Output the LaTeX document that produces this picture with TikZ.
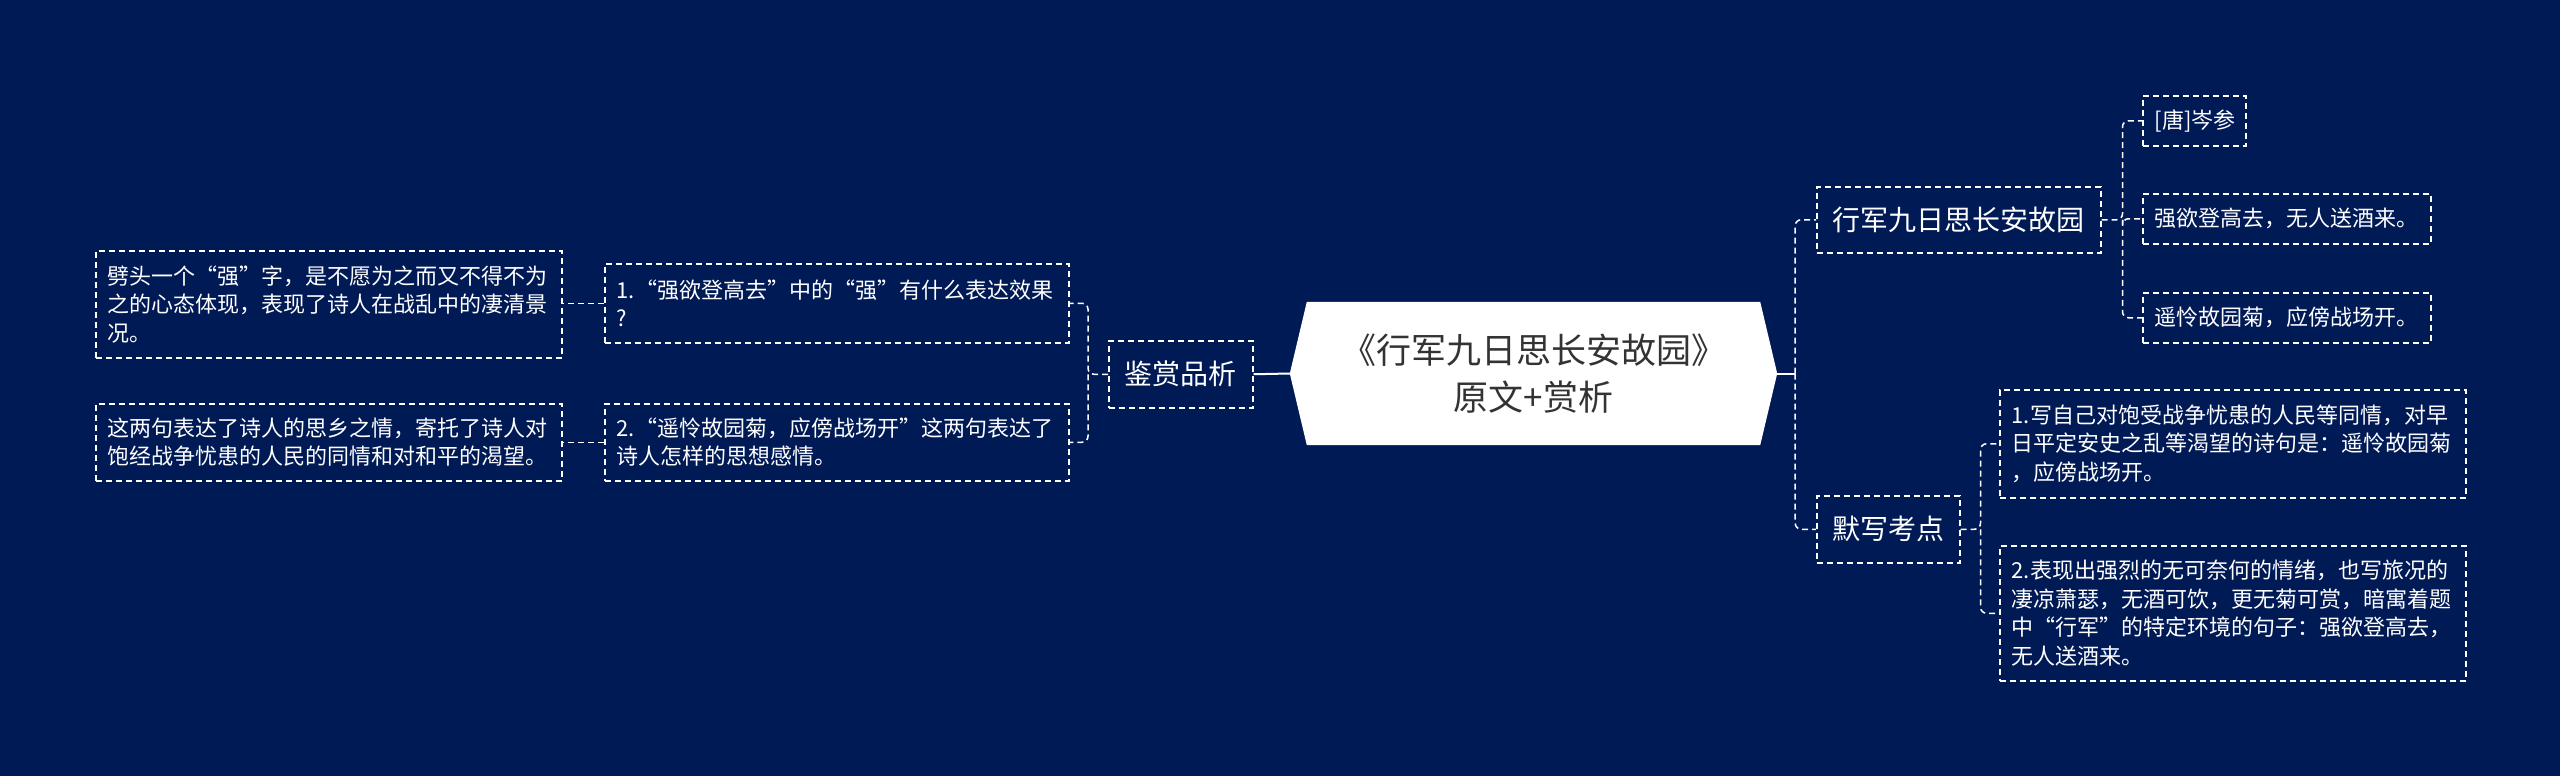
\documentclass[tikz,border=0pt]{standalone}
\usepackage{fontspec}
\newfontfamily\cjk{Noto Sans CJK SC}
\usetikzlibrary{backgrounds}
\definecolor{bgblue}{RGB}{0,26,86}
\definecolor{darktext}{RGB}{51,51,51}
\begin{document}
\begin{tikzpicture}[x=1pt,y=-1pt,
  box/.style={draw=white, line width=1.5pt, dash pattern=on 6pt off 4pt, text=white,
    font=\cjk\fontsize{22}{28.5}\selectfont, align=left, inner xsep=12pt, inner ysep=0pt,
    anchor=north west},
  topbox/.style={box, font=\cjk\fontsize{28}{34}\selectfont, align=center, inner xsep=0pt},
  conn/.style={draw=white, line width=1.5pt, dash pattern=on 6pt off 4pt, rounded corners=6pt},
  solidconn/.style={draw=white, line width=2pt}]
\useasboundingbox (0,0) rectangle (2560,776);

% root
\node (root) [minimum width=487pt, minimum height=143pt, inner sep=0pt, align=center,
  text=darktext, font=\cjk\fontsize{35}{47}\selectfont] at (1533.5,373.5)
  {《行军九日思长安故园》\\原文+赏析};

% level 1
\node (J) [topbox, text width=144pt, minimum height=67pt] at (1108,340) {鉴赏品析};
\node (H) [topbox, text width=284pt, minimum height=66pt] at (1816,186) {行军九日思长安故园};
\node (M) [topbox, text width=143pt, minimum height=67pt] at (1816,495) {默写考点};

% left side
\node (L1) [box, text width=440pt, minimum height=79pt] at (604,263)
  {1.“强欲登高去”中的“强”有什么表达效果\\?};
\node (L2) [box, text width=440pt, minimum height=77pt] at (604,403)
  {2.“遥怜故园菊，应傍战场开”这两句表达了\\诗人怎样的思想感情。};
\node (A) [box, text width=442pt, minimum height=107pt] at (95,250)
  {劈头一个“强”字，是不愿为之而又不得不为\\之的心态体现，表现了诗人在战乱中的凄清景\\况。};
\node (B) [box, text width=442pt, minimum height=77pt] at (95,403)
  {这两句表达了诗人的思乡之情，寄托了诗人对\\饱经战争忧患的人民的同情和对和平的渴望。};

% right side
\node (T) [box, text width=79pt, minimum height=50pt] at (2142,95) {[唐]岑参};
\node (Q) [box, text width=264pt, minimum height=50pt] at (2142,193) {强欲登高去，无人送酒来。};
\node (Y) [box, text width=264pt, minimum height=50pt] at (2142,292) {遥怜故园菊，应傍战场开。};
\node (R1) [box, text width=442pt, minimum height=108pt] at (1999,389)
  {1.写自己对饱受战争忧患的人民等同情，对早\\日平定安史之乱等渴望的诗句是：遥怜故园菊\\，应傍战场开。};
\node (R2) [box, text width=442pt, minimum height=135pt] at (1999,545)
  {2.表现出强烈的无可奈何的情绪，也写旅况的\\凄凉萧瑟，无酒可饮，更无菊可赏，暗寓着题\\中“行军”的特定环境的句子：强欲登高去，\\无人送酒来。};

% connectors
\draw[solidconn] (root.west) -- (J.east);
\draw[solidconn] (root.east) -- ([xshift=18pt]root.east);
\draw[conn] ([xshift=18pt]root.east) |- (H.west);
\draw[conn] ([xshift=18pt]root.east) |- (M.west);

\draw[conn] (J.west) -- ([xshift=-20pt]J.west) |- (L1.east);
\draw[conn] ([xshift=-20pt]J.west) |- (L2.east);
\draw[conn] (L1.west) -- (L1.west -| A.east);
\draw[conn] (L2.west) -- (L2.west -| B.east);

\draw[conn] (H.east) -- ([xshift=21pt]H.east) |- (T.west);
\draw[conn] ([xshift=21pt]H.east) |- (Q.west);
\draw[conn] ([xshift=21pt]H.east) |- (Y.west);

\draw[conn] (M.east) -- ([xshift=20pt]M.east) |- (R1.west);
\draw[conn] ([xshift=20pt]M.east) |- (R2.west);

\begin{scope}[on background layer]
  \fill[bgblue] (0,0) rectangle (2560,776);
  \fill[white] (root.west) -- ([xshift=17pt]root.north west) -- ([xshift=-17pt]root.north east)
    -- (root.east) -- ([xshift=-17pt]root.south east) -- ([xshift=17pt]root.south west) -- cycle;
\end{scope}
\end{tikzpicture}
\end{document}
